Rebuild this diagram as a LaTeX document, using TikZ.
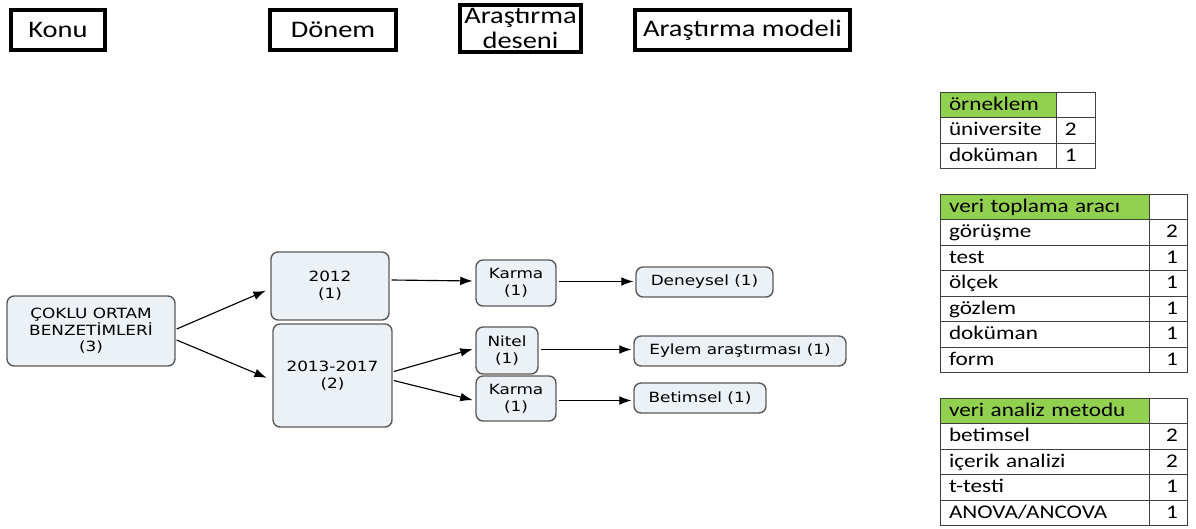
\documentclass[tikz,border=0pt]{standalone}
\usepackage{fontspec}
\setmainfont[FakeStretch=1.2]{Carlito}
\newfontfamily\kutufont[FakeStretch=1.2]{DejaVu Sans}
\usetikzlibrary{positioning, calc, arrows.meta}

\begin{document}
\begin{tikzpicture}[
  x=0.02cm, y=-0.02cm,
  baslik/.style={
    draw=black,
    line width=2.3pt,
    align=center,
    inner sep=1pt,
    font=\fontsize{13.5}{14.5}\selectfont
  },
  kutu/.style={
    draw=black!65,
    fill=kutucol,
    rounded corners=4pt,
    line width=0.8pt,
    align=center,
    inner sep=1pt,
    font=\kutufont\fontsize{8}{9.5}\selectfont
  },
  ok/.style={
    -{Latex[length=7pt, width=5pt]},
    line width=0.65pt,
    shorten >=1pt
  },
  hucre/.style={
    draw=black!75,
    line width=0.5pt,
    anchor=north west,
    outer sep=0pt,
    inner xsep=0.18cm,
    inner ysep=0pt,
    minimum height=0.51cm,
    text height=8.5pt,
    text depth=2.5pt,
    align=left,
    font=\fontsize{11}{12}\selectfont
  },
  baslikhucre/.style={hucre, fill=tablocol}
]

\definecolor{kutucol}{RGB}{236,241,245}
\definecolor{tablocol}{RGB}{146,208,80}

\useasboundingbox (0,0) rectangle (1196,528);

% basliklar
\node[baslik, minimum width=1.88cm, minimum height=0.8cm] (konu) at (58,30) {Konu};
\node[baslik, minimum width=2.52cm, minimum height=0.8cm] (donem) at (333,30) {Dönem};
\node[baslik, minimum width=2.42cm, minimum height=0.94cm] (desen) at (520.5,28.5)
  {Araştırma\\deseni};
\node[baslik, minimum width=4.3cm, minimum height=0.8cm] (model) at (742.5,30)
  {Araştırma modeli};

% agac
\node[kutu, minimum width=3.36cm, minimum height=1.4cm] (cok) at (91,331)
  {ÇOKLU ORTAM\\BENZETİMLERİ\\(3)};
\node[kutu, minimum width=2.36cm, minimum height=1.36cm] (d2012) at (330,286)
  {2012\\(1)};
\node[kutu, minimum width=2.38cm, minimum height=2.06cm] (d2013) at (332.5,375.5)
  {2013-2017\\(2)};
\node[kutu, minimum width=1.6cm, minimum height=0.92cm] (karma1) at (516,283)
  {Karma\\(1)};
\node[kutu, minimum width=1.24cm, minimum height=0.94cm] (nitel) at (507,350.5)
  {Nitel\\(1)};
\node[kutu, minimum width=1.6cm, minimum height=0.9cm] (karma2) at (516,398.5)
  {Karma\\(1)};
\node[kutu, minimum width=2.74cm, minimum height=0.6cm] (deneysel) at (704.5,282)
  {Deneysel (1)};
\node[kutu, minimum width=4.24cm, minimum height=0.6cm] (eylem) at (740,351)
  {Eylem araştırması (1)};
\node[kutu, minimum width=2.64cm, minimum height=0.6cm] (betimsel) at (700,398)
  {Betimsel (1)};

\coordinate (k1cikis) at ($(karma1.east)+(2,-1.5)$);
\coordinate (ncikis) at ($(nitel.east)+(2,-1)$);
\coordinate (k2cikis) at ($(karma2.east)+(2,2)$);

\draw[ok] ($(cok.east)+(1,-2)$) -- ($(d2012.west)+(-3,4)$);
\draw[ok] ($(cok.east)+(1,9)$) -- ($(d2013.west)+(-4,3)$);
\draw[ok] ($(d2012.east)+(2,-6)$) -- ($(karma1.west)+(-1,-2)$);
\draw[ok] ($(d2013.east)+(1,-4)$) -- ($(nitel.west)+(-1,-2)$);
\draw[ok] ($(d2013.east)+(1,5)$) -- ($(karma2.west)+(-1,2)$);
\draw[ok] (k1cikis) -- (k1cikis -| deneysel.west);
\draw[ok] (ncikis) -- (ncikis -| eylem.west);
\draw[ok] (k2cikis) -- (k2cikis -| betimsel.west);

% tablolar
\node[baslikhucre, text width=1.96cm] (orn) at (940,92) {örneklem};
\node[hucre, text width=0.42cm] (ornbos) at (orn.north east) {};
\foreach \ad/\sayi [count=\i] in {üniversite/2, doküman/1} {
  \node[hucre, text width=1.96cm] (orn\i) at (940,{92+25.5*\i}) {\ad};
  \node[hucre, text width=0.42cm] (ornsayi\i) at (orn\i.north east) {\sayi};
}

\node[baslikhucre, text width=3.82cm] (arac) at (940,194) {veri toplama aracı};
\node[hucre, text width=0.4cm] (aracbos) at (arac.north east) {};
\foreach \ad/\sayi [count=\i] in {görüşme/2, test/1, ölçek/1, gözlem/1, doküman/1, form/1} {
  \node[hucre, text width=3.82cm] (arac\i) at (940,{194+25.5*\i}) {\ad};
  \node[hucre, text width=0.4cm, align=right] (aracsayi\i) at (arac\i.north east) {\sayi};
}

\node[baslikhucre, text width=3.82cm] (analiz) at (940,398) {veri analiz metodu};
\node[hucre, text width=0.4cm] (analizbos) at (analiz.north east) {};
\foreach \ad/\sayi [count=\i] in {betimsel/2, içerik analizi/2, t-testi/1, {ANOVA/ANCOVA}/1} {
  \node[hucre, text width=3.82cm] (analiz\i) at (940,{398+25.5*\i}) {\ad};
  \node[hucre, text width=0.4cm, align=right] (analizsayi\i) at (analiz\i.north east) {\sayi};
}

\end{tikzpicture}
\end{document}
